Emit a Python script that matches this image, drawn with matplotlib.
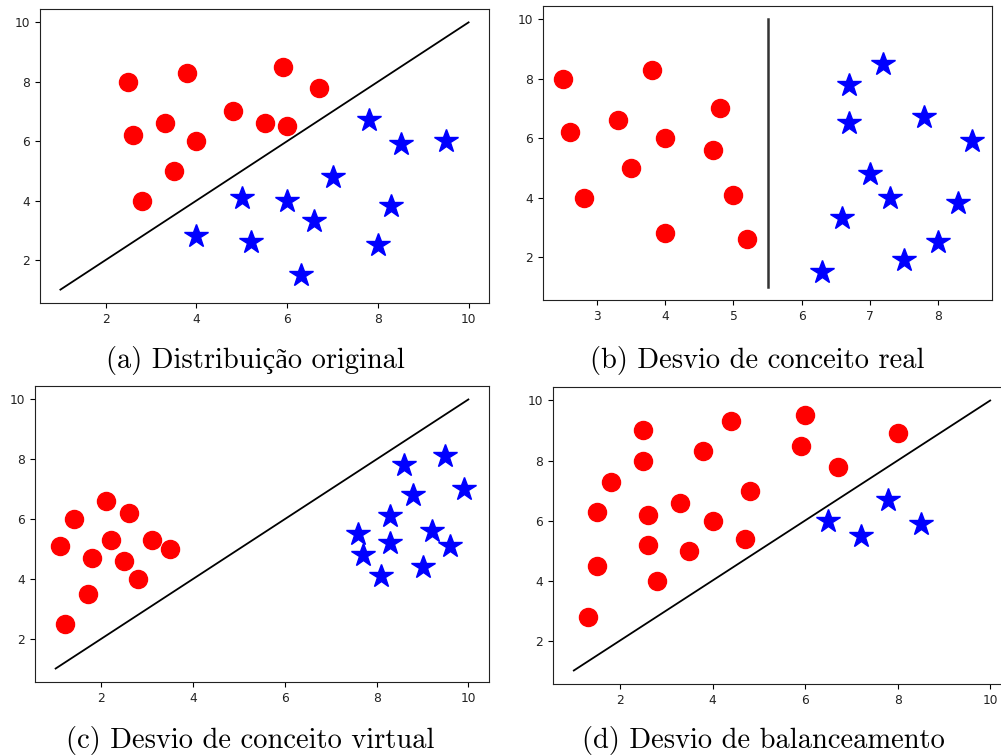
import matplotlib
matplotlib.use("Agg")
import matplotlib.pyplot as plt

# ---- dados ----
# (a) distribuição original
a_red_x = [2.5, 2.6, 2.8, 3.3, 3.5, 3.8, 4.0, 4.8, 5.5, 5.9, 6.0, 6.7]
a_red_y = [8.0, 6.2, 4.0, 6.6, 5.0, 8.3, 6.0, 7.0, 6.6, 8.5, 6.5, 7.8]
a_blue_x = [4.0, 5.0, 5.2, 6.0, 6.3, 6.6, 7.0, 7.8, 8.0, 8.3, 8.5, 9.5]
a_blue_y = [2.8, 4.1, 2.6, 4.0, 1.5, 3.3, 4.8, 6.7, 2.5, 3.8, 5.9, 6.0]

# (b) desvio de conceito real
b_red_x = [2.5, 2.6, 2.8, 3.3, 3.5, 3.8, 4.0, 4.0, 4.7, 4.8, 5.0, 5.2]
b_red_y = [8.0, 6.2, 4.0, 6.6, 5.0, 8.3, 6.0, 2.8, 5.6, 7.0, 4.1, 2.6]
b_blue_x = [6.3, 6.6, 6.7, 6.7, 7.0, 7.2, 7.3, 7.5, 7.8, 8.0, 8.3, 8.5]
b_blue_y = [1.5, 3.3, 7.8, 6.5, 4.8, 8.5, 4.0, 1.9, 6.7, 2.5, 3.8, 5.9]

# (c) desvio de conceito virtual
c_red_x = [1.1, 1.2, 1.4, 1.7, 1.8, 2.1, 2.2, 2.5, 2.6, 2.8, 3.1, 3.5]
c_red_y = [5.1, 2.5, 6.0, 3.5, 4.7, 6.6, 5.3, 4.6, 6.2, 4.0, 5.3, 5.0]
c_blue_x = [7.6, 7.7, 8.1, 8.3, 8.3, 8.6, 8.8, 9.0, 9.2, 9.5, 9.6, 9.9]
c_blue_y = [5.5, 4.8, 4.1, 6.1, 5.2, 7.8, 6.8, 4.4, 5.6, 8.1, 5.1, 7.0]

# (d) desvio de balanceamento
d_red_x = [1.3, 1.5, 1.5, 1.8, 2.5, 2.5, 2.6, 2.6, 2.8, 3.3,
           3.5, 3.8, 4.0, 4.4, 4.7, 4.8, 5.9, 6.0, 6.7, 8.0]
d_red_y = [2.8, 4.5, 6.3, 7.3, 9.0, 8.0, 6.2, 5.2, 4.0, 6.6,
           5.0, 8.3, 6.0, 9.3, 5.4, 7.0, 8.5, 9.5, 7.8, 8.9]
d_blue_x = [6.5, 7.2, 7.8, 8.5]
d_blue_y = [6.0, 5.5, 6.7, 5.9]

diag_x = [1, 10]
diag_y = [1, 10]
vert_x = [5.5, 5.5]
vert_y = [1, 10]

captions = ["(a) Distribuição original", "(b) Desvio de conceito real",
            "(c) Desvio de conceito virtual", "(d) Desvio de balanceamento"]

# ---- figura ----
W, H = 1001, 756
fig = plt.figure(figsize=(W / 100, H / 100), dpi=100)


def box(left, top, right, bottom):
    return [left / W, 1 - bottom / H, (right - left) / W, (bottom - top) / H]


panels = [
    (box(40, 9, 489, 303), a_red_x, a_red_y, a_blue_x, a_blue_y, diag_x, diag_y),
    (box(543, 6, 992, 300), b_red_x, b_red_y, b_blue_x, b_blue_y, vert_x, vert_y),
    (box(35, 386, 489, 682), c_red_x, c_red_y, c_blue_x, c_blue_y, diag_x, diag_y),
    (box(553, 387, 1011, 684), d_red_x, d_red_y, d_blue_x, d_blue_y, diag_x, diag_y),
]

for k, (pos, rx, ry, bx, by, lx, ly) in enumerate(panels):
    ax = fig.add_axes(pos)
    if k == 1:
        ax.plot(lx, ly, color="#333333", lw=1.8)
    else:
        ax.plot(lx, ly, color="black", lw=1.3)
    ax.plot(rx, ry, "o", color="red", ms=13, ls="none")
    ax.plot(bx, by, "*", color="blue", ms=17.5, ls="none")
    ax.set_yticks([2, 4, 6, 8, 10])
    if k == 1:
        ax.set_xticks([3, 4, 5, 6, 7, 8])
    else:
        ax.set_xticks([2, 4, 6, 8, 10])
    ax.tick_params(labelsize=8.8, labelcolor="#222222", length=3.5, width=0.8)
    for s in ax.spines.values():
        s.set_color("#222222")

# legendas em baixo de cada painel
cap_pos = [(255, 368), (757, 368), (250, 748), (763, 748)]
for txt, (cx, cy) in zip(captions, cap_pos):
    fig.text(cx / W, 1 - cy / H, txt, ha="center", va="baseline",
             fontsize=20.5, family=["cmr10", "Liberation Serif"])

fig.savefig("out.png", dpi=100)
